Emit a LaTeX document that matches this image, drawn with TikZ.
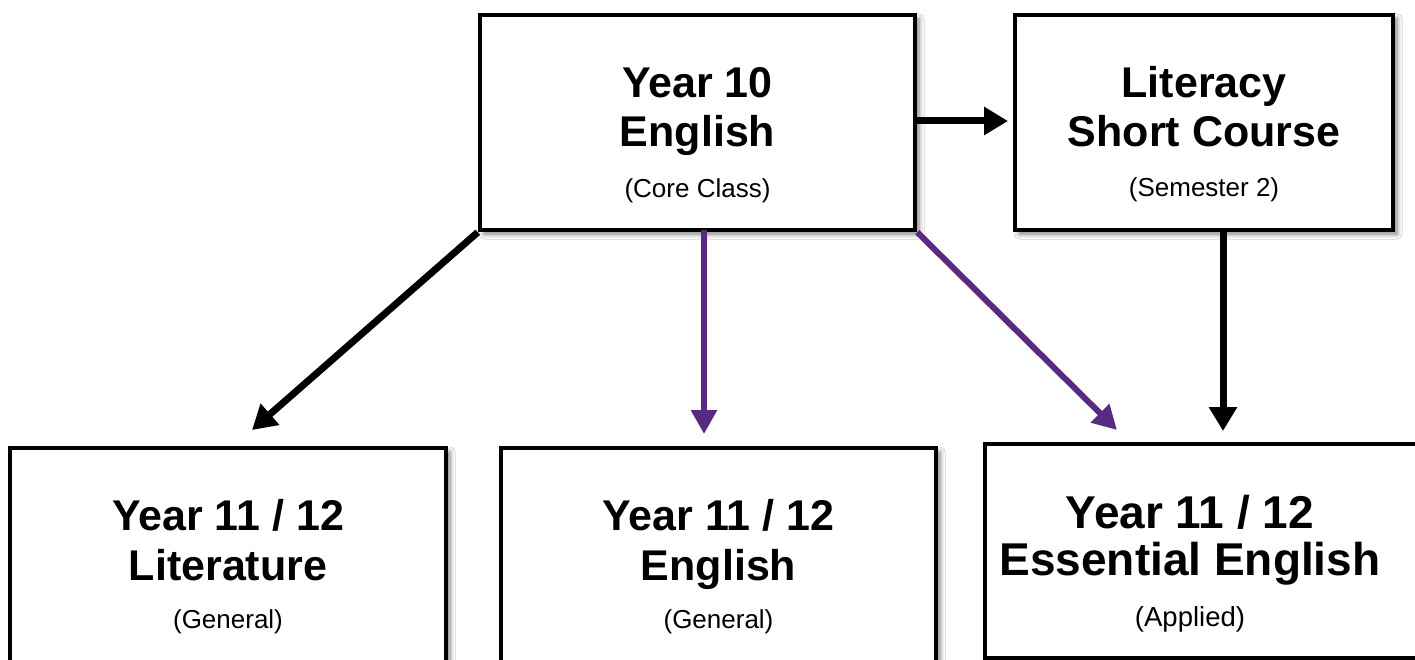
\documentclass[tikz,border=0pt]{standalone}
\usepackage{fontspec}
\setmainfont{Liberation Sans}
\usetikzlibrary{arrows.meta,shadows.blur,calc}
\definecolor{violetline}{RGB}{88,42,130}
\begin{document}
\begin{tikzpicture}[x=1pt,y=-1pt,
  box/.style={draw=black, line width=4.5pt, fill=white, rectangle, inner sep=0pt,
    blur shadow={shadow xshift=4pt, shadow yshift=-4pt, shadow blur radius=5pt, shadow blur steps=6, shadow opacity=50}},
  ttl/.style={anchor=base, inner sep=0pt, font=\fontsize{43}{49}\selectfont\bfseries},
  bigttl/.style={anchor=base, inner sep=0pt, font=\fontsize{46}{49}\selectfont\bfseries},
  sub/.style={anchor=base, inner sep=0pt, font=\fontsize{26}{30}\selectfont},
  bigsub/.style={anchor=base, inner sep=0pt, font=\fontsize{27.5}{30}\selectfont},
  blackarrow/.style={draw=black, line width=7pt, -{Triangle[length=24pt,width=27pt]}},
  purplearrow/.style={draw=violetline, line width=6pt, -{Triangle[length=24pt,width=25pt]}}
]
\useasboundingbox (0,0) rectangle (1415,660);
\clip (0,0) rectangle (1415,660);
\fill[white] (0,0) rectangle (1415,660);

% boxes
\node[box, minimum width=435pt, minimum height=215pt] (y10) at (697.5,122.5) {};
\node[box, minimum width=378pt, minimum height=215pt] (lit) at (1204,122.5) {};
\node[box, minimum width=436pt, minimum height=252pt] (lita) at (228,574) {};
\node[box, minimum width=435pt, minimum height=252pt] (eng) at (718.5,574) {};
\node[box, minimum width=460pt, minimum height=214pt] (ess) at (1215,551) {};

% texts
\node[ttl] (y10a) at (697.5,98) {Year 10};
\node[ttl] (y10b) at (697.5,147) {English};
\node[sub] (y10c) at (697.5,198) {(Core Class)};

\node[ttl] (lita1) at (1204,98) {Literacy};
\node[ttl] (lita2) at (1204,147) {Short Course};
\node[sub] (lita3) at (1204,197) {(Semester 2)};

\node[ttl] (b1a) at (228,530) {Year 11 / 12};
\node[ttl] (b1b) at (228,580) {Literature};
\node[sub] (b1c) at (228,628) {(General)};

\node[ttl] (b2a) at (718.5,530) {Year 11 / 12};
\node[ttl] (b2b) at (718.5,580) {English};
\node[sub] (b2c) at (718.5,628) {(General)};

\node[bigttl] (b3a) at (1190,528) {Year 11 / 12};
\node[bigttl] (b3b) at (1190,575) {Essential English};
\node[bigsub] (b3c) at (1190,626) {(Applied)};

% arrow end points
\coordinate (t1) at (252,430);
\coordinate (t2) at (704,434);
\coordinate (t3) at (1117,430);
\coordinate (t4) at (1223,431);
\coordinate (s2) at (704,230);
\coordinate (s4) at (1223,232);
\coordinate (s5) at (915,121);
\coordinate (t5) at (1008,121);

% connectors
\draw[blackarrow] (y10.south west) -- (t1);
\draw[purplearrow] (s2) -- (t2);
\draw[purplearrow] (y10.south east) -- (t3);
\draw[blackarrow] (s4) -- (t4);
\draw[blackarrow] (s5) -- (t5);
\end{tikzpicture}
\end{document}
